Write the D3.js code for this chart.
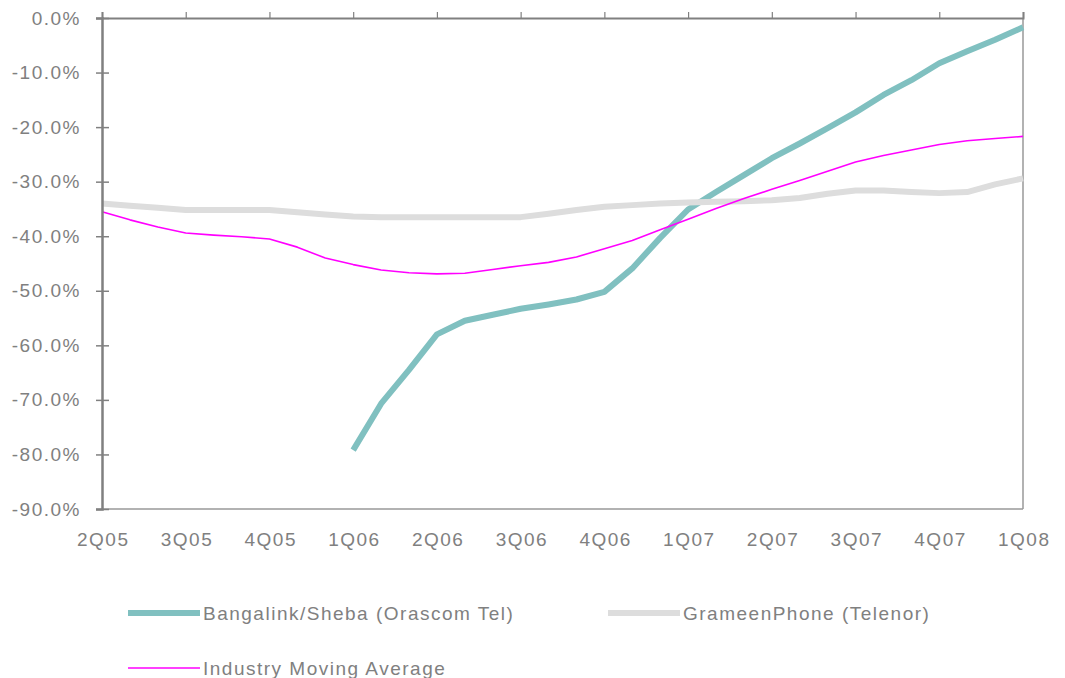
<!DOCTYPE html>
<html>
<head>
<meta charset="utf-8">
<script src="https://cdn.jsdelivr.net/npm/d3@7"></script>
<style>
    body { margin: 0; background: #fff; }
    text { font-family: "Liberation Sans", Arial, sans-serif; fill: #808080; }
</style>
</head>
<body>
<script>
// chart size, same as the window
var w = 1065, h = 678;

// quarter labels on the x axis (one every 3 months)
var quarters = ["2Q05", "3Q05", "4Q05", "1Q06", "2Q06", "3Q06", "4Q06", "1Q07", "2Q07", "3Q07", "4Q07", "1Q08"];

// y axis ticks, in %
var yTicks = [0, -10, -20, -30, -40, -50, -60, -70, -80, -90];

// monthly readings, month 0 = 2Q05
var banglalink = [null, null, null, null, null, null, null, null, null,
    -79.2, -70.7, -64.5, -58.0, -55.5, -54.4, -53.3, -52.5, -51.6, -50.2,
    -45.9, -40.3, -35.1, -31.9, -28.8, -25.7, -23.0, -20.2, -17.3, -14.1,
    -11.4, -8.3, -6.1, -4.0, -1.7];

var grameen = [-34.0, -34.4, -34.8, -35.2, -35.2, -35.2, -35.2, -35.6, -36.0,
    -36.4, -36.5, -36.5, -36.5, -36.5, -36.5, -36.5, -35.9, -35.2, -34.6,
    -34.3, -34.0, -33.8, -33.7, -33.6, -33.4, -33.0, -32.2, -31.6, -31.6,
    -31.9, -32.1, -31.9, -30.5, -29.4];

var industry = [-35.5, -37.0, -38.3, -39.4, -39.8, -40.1, -40.5, -42.0, -44.0,
    -45.2, -46.2, -46.7, -46.9, -46.8, -46.1, -45.4, -44.8, -43.8, -42.3,
    -40.8, -38.8, -36.9, -34.9, -33.1, -31.4, -29.8, -28.1, -26.4, -25.2,
    -24.2, -23.2, -22.5, -22.1, -21.7];

// series names, line colours and widths for the legend
var names = ["Bangalink/Sheba (Orascom Tel)", "GrameenPhone (Telenor)", "Industry Moving Average"];
var colors = ["#80c0c0", "#dddddd", "#ff00ff"];
var widths = [6, 6, 1.6];

window.onload = function () {
    var svg = d3.select("body")
        .append("svg")
        .attr("width", w)
        .attr("height", h);

    // plot box
    var left = 102, right = 1023, top = 18, bottom = 509;

    var x = d3.scaleLinear()
        .domain([0, (quarters.length - 1) * 3])
        .range([left, right]);

    var y = d3.scaleLinear()
        .domain([-90, 0])
        .range([bottom, top]);

    // right and bottom frame lines
    svg.append("line")
        .attr("x1", right).attr("x2", right)
        .attr("y1", top).attr("y2", bottom)
        .style("stroke", "#999").style("stroke-width", 1.5);
    svg.append("line")
        .attr("x1", left).attr("x2", right)
        .attr("y1", bottom).attr("y2", bottom)
        .style("stroke", "#999").style("stroke-width", 1.5);

    // series lines, drawn in the legend order
    var series = [banglalink, grameen, industry];
    var line = d3.line()
        .defined(function (d) { return d != null; })
        .x(function (d, i) { return x(i); })
        .y(function (d) { return y(d); });

    svg.selectAll(".series")
        .data(series)
        .enter()
        .append("path")
        .attr("class", "series")
        .attr("d", line)
        .style("fill", "none")
        .style("stroke", function (d, i) { return colors[i]; })
        .style("stroke-width", function (d, i) { return widths[i]; })
        .style("stroke-linejoin", "round");

    var qTicks = d3.range(quarters.length).map(function (i) { return i * 3; });

    // top axis with small ticks pointing up, no labels
    var topAxis = svg.append("g")
        .attr("transform", "translate(0," + top + ")")
        .call(d3.axisTop(x)
            .tickValues(qTicks)
            .tickSize(6)
            .tickFormat(""));
    topAxis.select(".domain").style("stroke", "#808080").style("stroke-width", 2);
    topAxis.selectAll(".tick line").style("stroke", "#808080").style("stroke-width", 1.2);

    // quarter labels below the plot
    var bottomAxis = svg.append("g")
        .attr("transform", "translate(0," + bottom + ")")
        .call(d3.axisBottom(x)
            .tickValues(qTicks)
            .tickSize(0)
            .tickPadding(24)
            .tickFormat(function (d) { return quarters[d / 3]; }));
    bottomAxis.select(".domain").remove();
    bottomAxis.selectAll("text")
        .attr("dx", "0.75px")
        .style("font-size", "19px")
        .style("letter-spacing", "1.5px")
        .style("fill", "#808080");

    // left axis, ticks crossing the line
    var fmt = d3.format(".1f");
    var leftAxis = svg.append("g")
        .attr("transform", "translate(" + left + ",0)")
        .call(d3.axisLeft(y)
            .tickValues(yTicks)
            .tickSize(6)
            .tickPadding(15)
            .tickFormat(function (d) { return fmt(d).replace("\u2212", "-") + "%"; }));
    leftAxis.select(".domain").style("stroke", "#808080").style("stroke-width", 2.5);
    leftAxis.selectAll(".tick line")
        .attr("x1", -6).attr("x2", 7)
        .style("stroke", "#808080").style("stroke-width", 1.5);
    leftAxis.selectAll("text")
        .style("font-size", "19px")
        .style("letter-spacing", "1.5px")
        .style("fill", "#808080");

    // legend
    var legendPos = [[128, 613], [608, 613], [128, 668]];
    var legend = svg.selectAll(".legend")
        .data(names)
        .enter()
        .append("g")
        .attr("class", "legend")
        .attr("transform", function (d, i) {
            return "translate(" + legendPos[i][0] + "," + legendPos[i][1] + ")";
        });

    legend.append("line")
        .attr("x1", 0).attr("x2", 72)
        .attr("y1", 0).attr("y2", 0)
        .style("stroke", function (d, i) { return colors[i]; })
        .style("stroke-width", function (d, i) { return widths[i]; });

    legend.append("text")
        .attr("x", 75)
        .attr("y", 7)
        .style("font-size", "19px")
        .style("letter-spacing", "1.5px")
        .text(function (d) { return d; });
};
</script>
</body>
</html>
